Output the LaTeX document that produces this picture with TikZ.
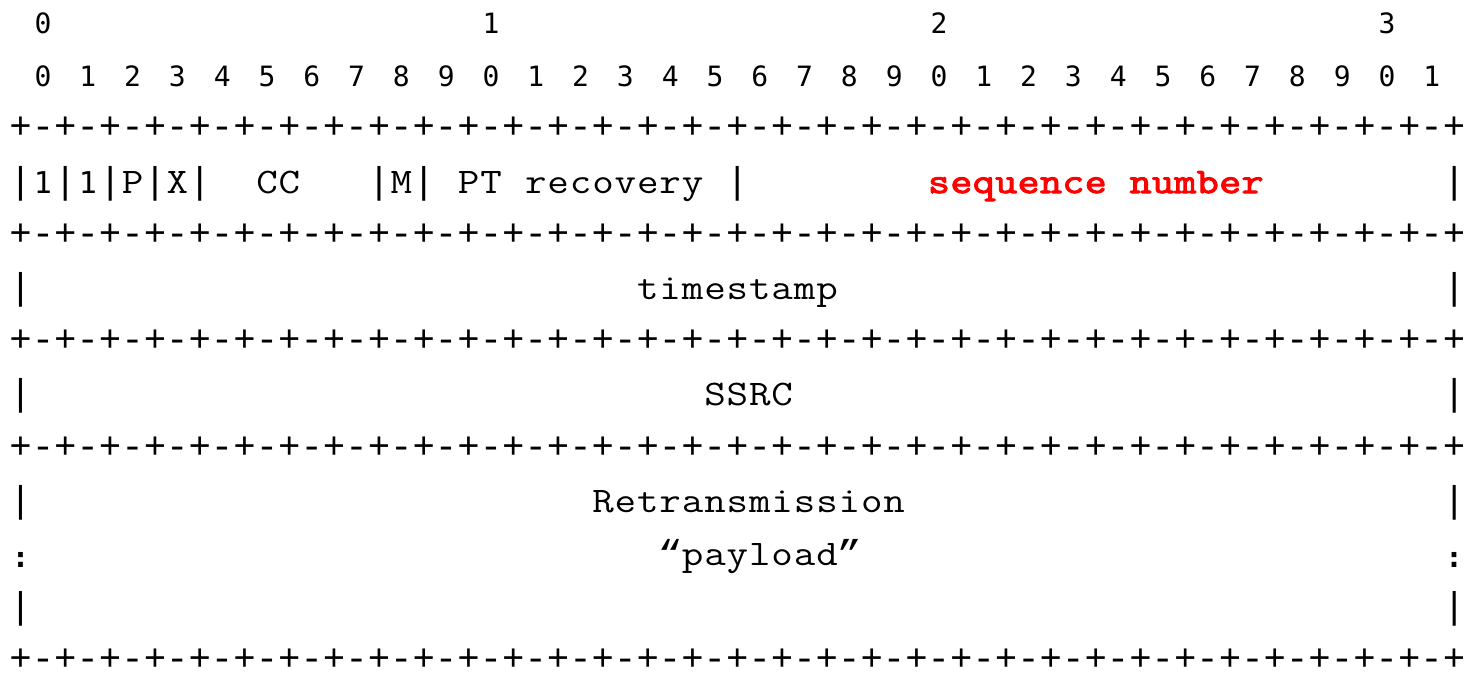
\documentclass[tikz,border=0pt]{standalone}
\usepackage{graphicx}
\usepackage{fontspec}
\newfontfamily\symfont{Liberation Mono}
\newfontfamily\sansdig{DejaVu Sans Mono}
\newfontfamily\heavytt{lmmono10-regular.otf}[FakeBold=2.5]
\definecolor{seqred}{RGB}{255,0,0}
\newcommand\sixteen{+-+-+-+-+-+-+-+-}
\newcommand\cl[1]{9.4+22.4*#1}
\newcommand\cc[1]{20.6+22.4*#1}
\newcommand\rb[1]{33.5+53.2*#1}
% put every character of a word into a 22.4pt wide cell (monospace grid)
\newcommand\spread[1]{\spreadi#1\relax}
\def\spreadi#1{\ifx\relax#1\else\makebox[22.4pt]{\scalebox{1.16}[1]{#1}}\expandafter\spreadi\fi}
\begin{document}
\begin{tikzpicture}[x=1pt,y=-1pt,
  sym/.style={inner sep=0pt,outer sep=0pt,anchor=base west,text depth=0pt,font=\symfont\fontsize{37.33}{40}\selectfont},
  word/.style={inner sep=0pt,outer sep=0pt,anchor=base west,font=\ttfamily\fontsize{36}{40}\selectfont},
  dig/.style={inner sep=0pt,outer sep=0pt,anchor=base,font=\sansdig\fontsize{28}{30}\selectfont},
  hdig/.style={inner sep=0pt,outer sep=0pt,anchor=base,font=\sansdig\fontsize{30}{32}\selectfont},
  colon/.style={inner sep=0pt,outer sep=0pt,anchor=base,font=\sansdig\bfseries\fontsize{29}{30}\selectfont},
  hl/.style={word,text=seqred,font=\heavytt\fontsize{36}{40}\selectfont}]
\useasboundingbox[fill=white] (0,0) rectangle (1474,675);
% bit numbers
\node[dig] (t0) at ({\cc{1}},{\rb{0}}) {0};
\node[dig] (t1) at ({\cc{21}},{\rb{0}}) {1};
\node[dig] (t2) at ({\cc{41}},{\rb{0}}) {2};
\node[dig] (t3) at ({\cc{61}},{\rb{0}}) {3};
\foreach \k in {0,...,31}{
  \pgfmathtruncatemacro\d{mod(\k,10)}
  \node[dig] (b\k) at ({\cc{(1+2*\k)}},{\rb{1}}) {\d};
}
% separator lines
\foreach \r in {2,4,6,8,12}{
  \node[sym] (rule\r) at ({\cl{0}},{\rb{\r}-1}) {\sixteen\sixteen\sixteen\sixteen+};
}
% header row
\node[sym]  (h0) at ({\cl{0}},{\rb{3}}) {|};
\node[hdig] (h1) at ({\cc{1}},{\rb{3}}) {1};
\node[sym]  (h2) at ({\cl{2}},{\rb{3}}) {|};
\node[hdig] (h3) at ({\cc{3}},{\rb{3}}) {1};
\node[sym]  (h4) at ({\cl{4}},{\rb{3}}) {|};
\node[word] (hp) at ({\cl{5}},{\rb{3}}) {\spread{P}};
\node[sym]  (h6) at ({\cl{6}},{\rb{3}}) {|};
\node[word] (hx) at ({\cl{7}},{\rb{3}}) {\spread{X}};
\node[sym]  (h8) at ({\cl{8}},{\rb{3}}) {|};
\node[word] (hcc) at ({\cl{11}},{\rb{3}}) {\spread{CC}};
\node[sym]  (h16) at ({\cl{16}},{\rb{3}}) {|};
\node[word] (hm) at ({\cl{17}},{\rb{3}}) {\spread{M}};
\node[sym]  (h18) at ({\cl{18}},{\rb{3}}) {|};
\node[word] (hpt) at ({\cl{20}},{\rb{3}}) {\spread{PT}};
\node[word] (hrec) at ({\cl{23}},{\rb{3}}) {\spread{recovery}};
\node[sym]  (h32) at ({\cl{32}},{\rb{3}}) {|};
\node[hl]   (seq) at ({\cl{41}},{\rb{3}}) {\spread{sequence}};
\node[hl]   (num) at ({\cl{50}},{\rb{3}}) {\spread{number}};
\node[sym]  (h64) at ({\cl{64}},{\rb{3}}) {|};
% timestamp
\node[sym]  (ts0) at ({\cl{0}},{\rb{5}}) {|};
\node[word] (ts) at ({\cl{28}},{\rb{5}}) {\spread{timestamp}};
\node[sym]  (ts64) at ({\cl{64}},{\rb{5}}) {|};
% SSRC
\node[sym]  (ss0) at ({\cl{0}},{\rb{7}}) {|};
\node[word] (ss) at ({\cl{31}},{\rb{7}}) {\spread{SSRC}};
\node[sym]  (ss64) at ({\cl{64}},{\rb{7}}) {|};
% payload
\node[sym]  (p0) at ({\cl{0}},{\rb{9}}) {|};
\node[word] (pr) at ({\cl{26}},{\rb{9}}) {\spread{Retransmission}};
\node[sym]  (p64) at ({\cl{64}},{\rb{9}}) {|};
\node[colon] (q0) at ({\cc{0}},{\rb{10}+2}) {:};
\node[word] (pp) at ({\cl{29}},{\rb{10}}) {\spread{{\symfont “}payload{\symfont ”}}};
\node[colon] (q64) at ({\cc{64}},{\rb{10}+2}) {:};
\node[sym]  (e0) at ({\cl{0}},{\rb{11}}) {|};
\node[sym]  (e64) at ({\cl{64}},{\rb{11}}) {|};
\end{tikzpicture}
\end{document}
